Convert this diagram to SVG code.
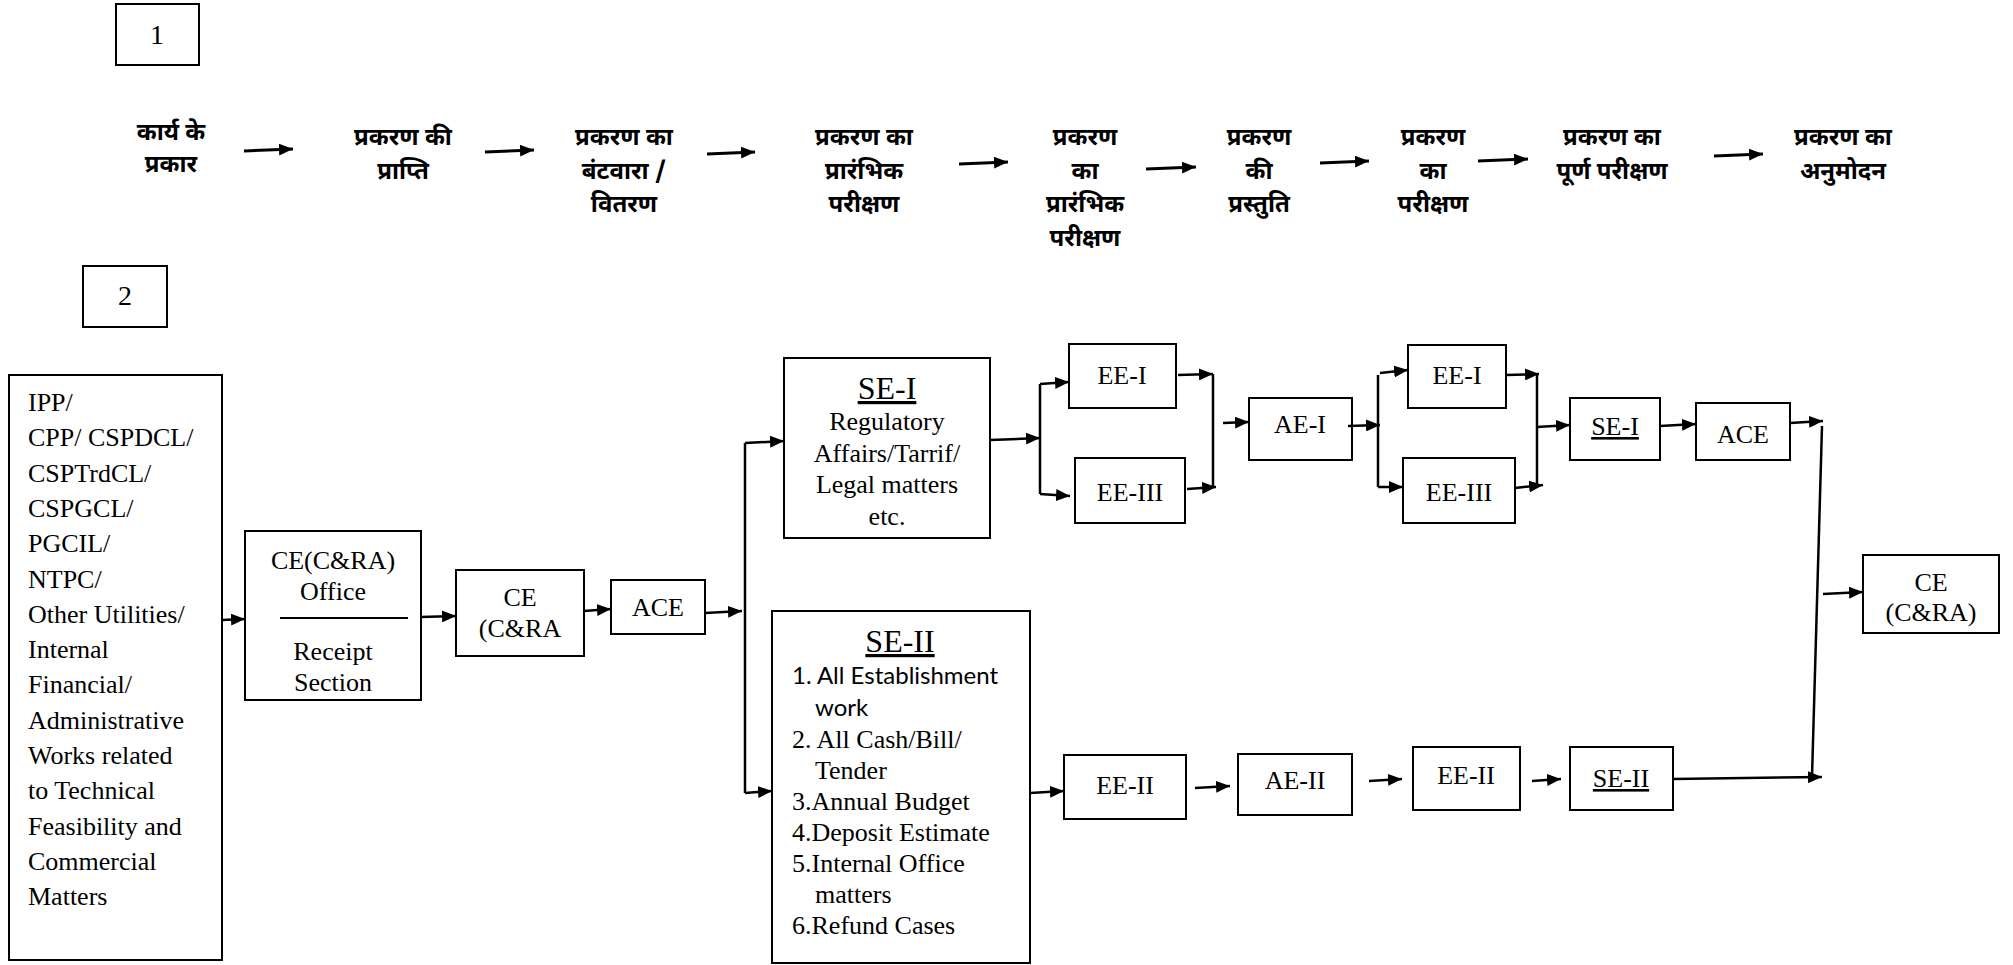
<svg xmlns="http://www.w3.org/2000/svg" width="2013" height="965" viewBox="0 0 2013 965">
<defs>
<marker id="ah" viewBox="0 0 14 12" refX="14" refY="6" markerWidth="14" markerHeight="12" markerUnits="userSpaceOnUse" orient="auto"><path d="M0,0 L14,6 L0,12 z" fill="#000"/></marker>
</defs>
<style>
.bx{fill:#fff;stroke:#000;stroke-width:2}
.t{font-family:"Liberation Serif","Times New Roman",serif;font-size:26px;fill:#000}
.tc{text-anchor:middle}
.ttl{font-size:32px;text-decoration:underline}
.s{font-family:Lato,"Liberation Sans",sans-serif;font-size:24px;fill:#000}
.h{font-family:"Noto Sans Devanagari","Noto Sans","Lohit Devanagari",sans-serif;font-size:24px;font-weight:bold;fill:#000;text-anchor:middle}
.c{stroke:#000;stroke-width:2.5;fill:none}
.ca{stroke:#000;stroke-width:2.5;fill:none;marker-end:url(#ah)}
.cb{stroke:#000;stroke-width:3;fill:none;marker-end:url(#ah)}
</style>
<rect width="2013" height="965" fill="#fff"/>

<g id="label1"><rect class="bx" x="116" y="4" width="83" height="61"/><text class="t tc" x="157" y="44" style="font-size:28px">1</text></g>
<g id="label2"><rect class="bx" x="83" y="266" width="84" height="61"/><text class="t tc" x="125" y="305" style="font-size:28px">2</text></g>

<g id="step1"><text class="h" x="171" y="140">कार्य के</text><text class="h" x="171" y="172">प्रकार</text></g>
<g id="step2"><text class="h" x="403" y="145">प्रकरण की</text><text class="h" x="403" y="179">प्राप्ति</text></g>
<g id="step3"><text class="h" x="624" y="145">प्रकरण का</text><text class="h" x="624" y="179">बंटवारा /</text><text class="h" x="624" y="212">वितरण</text></g>
<g id="step4"><text class="h" x="864" y="145">प्रकरण का</text><text class="h" x="864" y="179">प्रारंभिक</text><text class="h" x="864" y="212">परीक्षण</text></g>
<g id="step5"><text class="h" x="1085" y="145">प्रकरण</text><text class="h" x="1085" y="179">का</text><text class="h" x="1085" y="212">प्रारंभिक</text><text class="h" x="1085" y="246">परीक्षण</text></g>
<g id="step6"><text class="h" x="1259" y="145">प्रकरण</text><text class="h" x="1259" y="179">की</text><text class="h" x="1259" y="212">प्रस्तुति</text></g>
<g id="step7"><text class="h" x="1433" y="145">प्रकरण</text><text class="h" x="1433" y="179">का</text><text class="h" x="1433" y="212">परीक्षण</text></g>
<g id="step8"><text class="h" x="1612" y="145">प्रकरण का</text><text class="h" x="1612" y="179">पूर्ण परीक्षण</text></g>
<g id="step9"><text class="h" x="1843" y="145">प्रकरण का</text><text class="h" x="1843" y="179">अनुमोदन</text></g>

<g id="sources"><rect class="bx" x="9" y="375" width="213" height="585"/>
<text class="t" x="28" y="411"><tspan x="28">IPP/</tspan><tspan x="28" dy="35.3">CPP/ CSPDCL/</tspan><tspan x="28" dy="35.3">CSPTrdCL/</tspan><tspan x="28" dy="35.3">CSPGCL/</tspan><tspan x="28" dy="35.3">PGCIL/</tspan><tspan x="28" dy="35.3">NTPC/</tspan><tspan x="28" dy="35.3">Other Utilities/</tspan><tspan x="28" dy="35.3">Internal</tspan><tspan x="28" dy="35.3">Financial/</tspan><tspan x="28" dy="35.3">Administrative</tspan><tspan x="28" dy="35.3">Works related</tspan><tspan x="28" dy="35.3">to Technical</tspan><tspan x="28" dy="35.3">Feasibility and</tspan><tspan x="28" dy="35.3">Commercial</tspan><tspan x="28" dy="35.3">Matters</tspan></text></g>

<g id="ce_office"><rect class="bx" x="245" y="531" width="176" height="169"/>
<text class="t tc" x="333" y="569">CE(C&amp;RA)</text><text class="t tc" x="333" y="600">Office</text>
<line x1="280" y1="618" x2="408" y2="618" stroke="#000" stroke-width="2"/>
<text class="t tc" x="333" y="660">Receipt</text><text class="t tc" x="333" y="691">Section</text></g>

<g id="ce1"><rect class="bx" x="456" y="570" width="128" height="86"/><text class="t tc" x="520" y="606">CE</text><text class="t tc" x="520" y="637">(C&amp;RA</text></g>
<g id="ace1"><rect class="bx" x="611" y="580" width="94" height="54"/><text class="t tc" x="658" y="616">ACE</text></g>

<g id="se1"><rect class="bx" x="784" y="358" width="206" height="180"/>
<text class="t tc ttl" x="887" y="399">SE-I</text>
<text class="t tc" x="887" y="430">Regulatory</text><text class="t tc" x="887" y="462">Affairs/Tarrif/</text><text class="t tc" x="887" y="493">Legal matters</text><text class="t tc" x="887" y="525">etc.</text></g>

<g id="se2"><rect class="bx" x="772" y="611" width="258" height="352"/>
<text class="t tc ttl" x="900" y="652">SE-II</text>
<text class="s" x="792" y="684">1. All Establishment</text>
<text class="s" x="815" y="716">work</text>
<text class="t" x="792" y="748">2. All Cash/Bill/</text>
<text class="t" x="815" y="779">Tender</text>
<text class="t" x="792" y="810">3.Annual Budget</text>
<text class="t" x="792" y="841">4.Deposit Estimate</text>
<text class="t" x="792" y="872">5.Internal Office</text>
<text class="t" x="815" y="903">matters</text>
<text class="t" x="792" y="934">6.Refund Cases</text></g>

<g id="ee1a"><rect class="bx" x="1069" y="344" width="107" height="64"/><text class="t tc" x="1122" y="384">EE-I</text></g>
<g id="ee3a"><rect class="bx" x="1075" y="458" width="110" height="65"/><text class="t tc" x="1130" y="501">EE-III</text></g>
<g id="ae1"><rect class="bx" x="1249" y="398" width="103" height="62"/><text class="t tc" x="1300" y="433">AE-I</text></g>
<g id="ee1b"><rect class="bx" x="1408" y="345" width="98" height="63"/><text class="t tc" x="1457" y="384">EE-I</text></g>
<g id="ee3b"><rect class="bx" x="1403" y="458" width="112" height="65"/><text class="t tc" x="1459" y="501">EE-III</text></g>
<g id="se1b"><rect class="bx" x="1570" y="398" width="90" height="62"/><text class="t tc" x="1615" y="435" style="text-decoration:underline">SE-I</text></g>
<g id="ace2"><rect class="bx" x="1696" y="403" width="94" height="57"/><text class="t tc" x="1743" y="443">ACE</text></g>
<g id="ce_final"><rect class="bx" x="1863" y="555" width="136" height="78"/><text class="t tc" x="1931" y="591">CE</text><text class="t tc" x="1931" y="621">(C&amp;RA)</text></g>

<g id="ee2a"><rect class="bx" x="1064" y="755" width="122" height="64"/><text class="t tc" x="1125" y="794">EE-II</text></g>
<g id="ae2"><rect class="bx" x="1238" y="754" width="114" height="61"/><text class="t tc" x="1295" y="789">AE-II</text></g>
<g id="ee2b"><rect class="bx" x="1413" y="747" width="107" height="63"/><text class="t tc" x="1466" y="784">EE-II</text></g>
<g id="se2b"><rect class="bx" x="1570" y="747" width="103" height="63"/><text class="t tc" x="1621" y="787" style="text-decoration:underline">SE-II</text></g>

<g id="connectors">
<line class="cb" x1="244" y1="151" x2="293" y2="149"/>
<line class="cb" x1="485" y1="152" x2="534" y2="150"/>
<line class="cb" x1="707" y1="154" x2="755" y2="152"/>
<line class="cb" x1="959" y1="164" x2="1008" y2="162"/>
<line class="cb" x1="1146" y1="169" x2="1196" y2="167"/>
<line class="cb" x1="1320" y1="163" x2="1369" y2="161"/>
<line class="cb" x1="1478" y1="161" x2="1528" y2="159"/>
<line class="cb" x1="1714" y1="156" x2="1763" y2="154"/>

<line class="ca" x1="222" y1="620" x2="245" y2="619"/>
<line class="ca" x1="421" y1="617" x2="456" y2="616"/>
<line class="ca" x1="584" y1="611" x2="611" y2="609"/>
<line class="ca" x1="705" y1="613" x2="742" y2="611"/>
<path class="c" d="M745,443 L745,793"/>
<line class="ca" x1="745" y1="443" x2="784" y2="441"/>
<line class="ca" x1="745" y1="793" x2="772" y2="791"/>

<line class="ca" x1="990" y1="440" x2="1040" y2="438"/>
<path class="c" d="M1040,384 L1040,494"/>
<line class="ca" x1="1040" y1="384" x2="1069" y2="382"/>
<line class="ca" x1="1040" y1="494" x2="1070" y2="496"/>
<line class="ca" x1="1178" y1="375" x2="1213" y2="374"/>
<line class="ca" x1="1187" y1="489" x2="1216" y2="487"/>
<path class="c" d="M1213,374 L1213,488"/>
<line class="ca" x1="1223" y1="423" x2="1249" y2="422"/>
<line class="ca" x1="1348" y1="426" x2="1380" y2="425"/>
<path class="c" d="M1378,375 L1378,487"/>
<line class="ca" x1="1380" y1="373" x2="1408" y2="370"/>
<line class="ca" x1="1378" y1="487" x2="1403" y2="487"/>
<line class="ca" x1="1506" y1="375" x2="1539" y2="374"/>
<line class="ca" x1="1515" y1="488" x2="1543" y2="485"/>
<path class="c" d="M1537,374 L1537,488"/>
<line class="ca" x1="1537" y1="427" x2="1570" y2="425"/>
<line class="ca" x1="1660" y1="426" x2="1696" y2="424"/>
<line class="ca" x1="1790" y1="423" x2="1823" y2="421"/>
<path class="c" d="M1822,426 L1812,777"/>
<line class="ca" x1="1673" y1="779" x2="1822" y2="777"/>
<line class="ca" x1="1823" y1="594" x2="1863" y2="592"/>

<line class="ca" x1="1030" y1="793" x2="1064" y2="791"/>
<line class="ca" x1="1195" y1="788" x2="1230" y2="786"/>
<line class="ca" x1="1369" y1="781" x2="1402" y2="779"/>
<line class="ca" x1="1532" y1="781" x2="1561" y2="779"/>
</g>
</svg>
